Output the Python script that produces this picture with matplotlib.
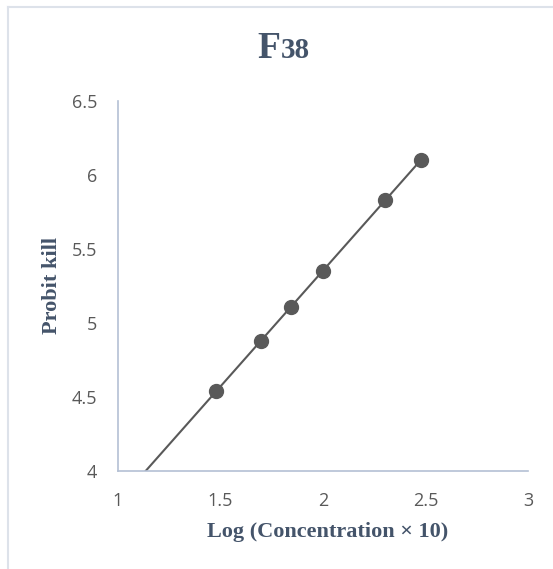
import numpy as np
import matplotlib
matplotlib.use("Agg")
import matplotlib.pyplot as plt
from matplotlib.lines import Line2D

# log(concentration x 10) and probit kill
log_conc = [1.477, 1.699, 1.845, 2.000, 2.301, 2.477]
probit = [4.54, 4.88, 5.11, 5.35, 5.83, 6.10]

x_ticks = [1, 1.5, 2, 2.5, 3]
y_ticks = [4, 4.5, 5, 5.5, 6, 6.5]

title_col = "#44546A"
tick_col = "#595959"
spine_col = "#B4C0D4"

fig = plt.figure(figsize=(5.53, 5.69), dpi=100)
ax = fig.add_axes([118/553, 1-471/569, 410/553, 370/569])

# linear trendline, extended back to the axis
slope, icpt = np.polyfit(log_conc, probit, 1)
xs = np.array([(4 - icpt) / slope, max(log_conc)])
ax.plot(xs, slope*xs + icpt, color="#595959", lw=1.5, zorder=2)
ax.plot(log_conc, probit, "o", color="#595959", ms=10, zorder=3)

ax.set_xlim(1, 3)
ax.set_ylim(4, 6.5)
ax.set_xticks(x_ticks)
ax.set_xticklabels([f"{v:g}" for v in x_ticks])
ax.set_yticks(y_ticks)
ax.set_yticklabels([f"{v:g}" for v in y_ticks])
ax.tick_params(length=0, labelsize=13, labelcolor=tick_col, pad=15,
               labelfontfamily="Open Sans")
for s in ["top", "right"]:
    ax.spines[s].set_visible(False)
for s in ["left", "bottom"]:
    ax.spines[s].set_color(spine_col)
    ax.spines[s].set_linewidth(1.2)

ax.set_xlabel("Log (Concentration × 10)", fontfamily="Liberation Serif",
              fontweight="bold", fontsize=16, color=title_col)
ax.xaxis.set_label_coords((328-118)/410, (471-522)/370)
ax.set_ylabel("Probit kill", fontfamily="Liberation Serif",
              fontweight="bold", fontsize=16, color=title_col)
ax.yaxis.set_label_coords((62-118)/410, (471-285)/370)

# title: big F, smaller 38
fig.text(280/553, 1-49/569, "F", fontfamily="Liberation Serif", fontweight="bold",
         fontsize=27, color=title_col, ha="right", va="center")
fig.text(281/553, 1-50/569, "38", fontfamily="Liberation Serif", fontweight="bold",
         fontsize=21, color=title_col, ha="left", va="center")

# chart area border
fig.add_artist(Line2D([8/553, 1], [1-7/569, 1-7/569], color="#DDE2EA", lw=1.5))
fig.add_artist(Line2D([8/553, 8/553], [0, 1-7/569], color="#DDE2EA", lw=1.5))

fig.savefig("out.png", dpi=100)
